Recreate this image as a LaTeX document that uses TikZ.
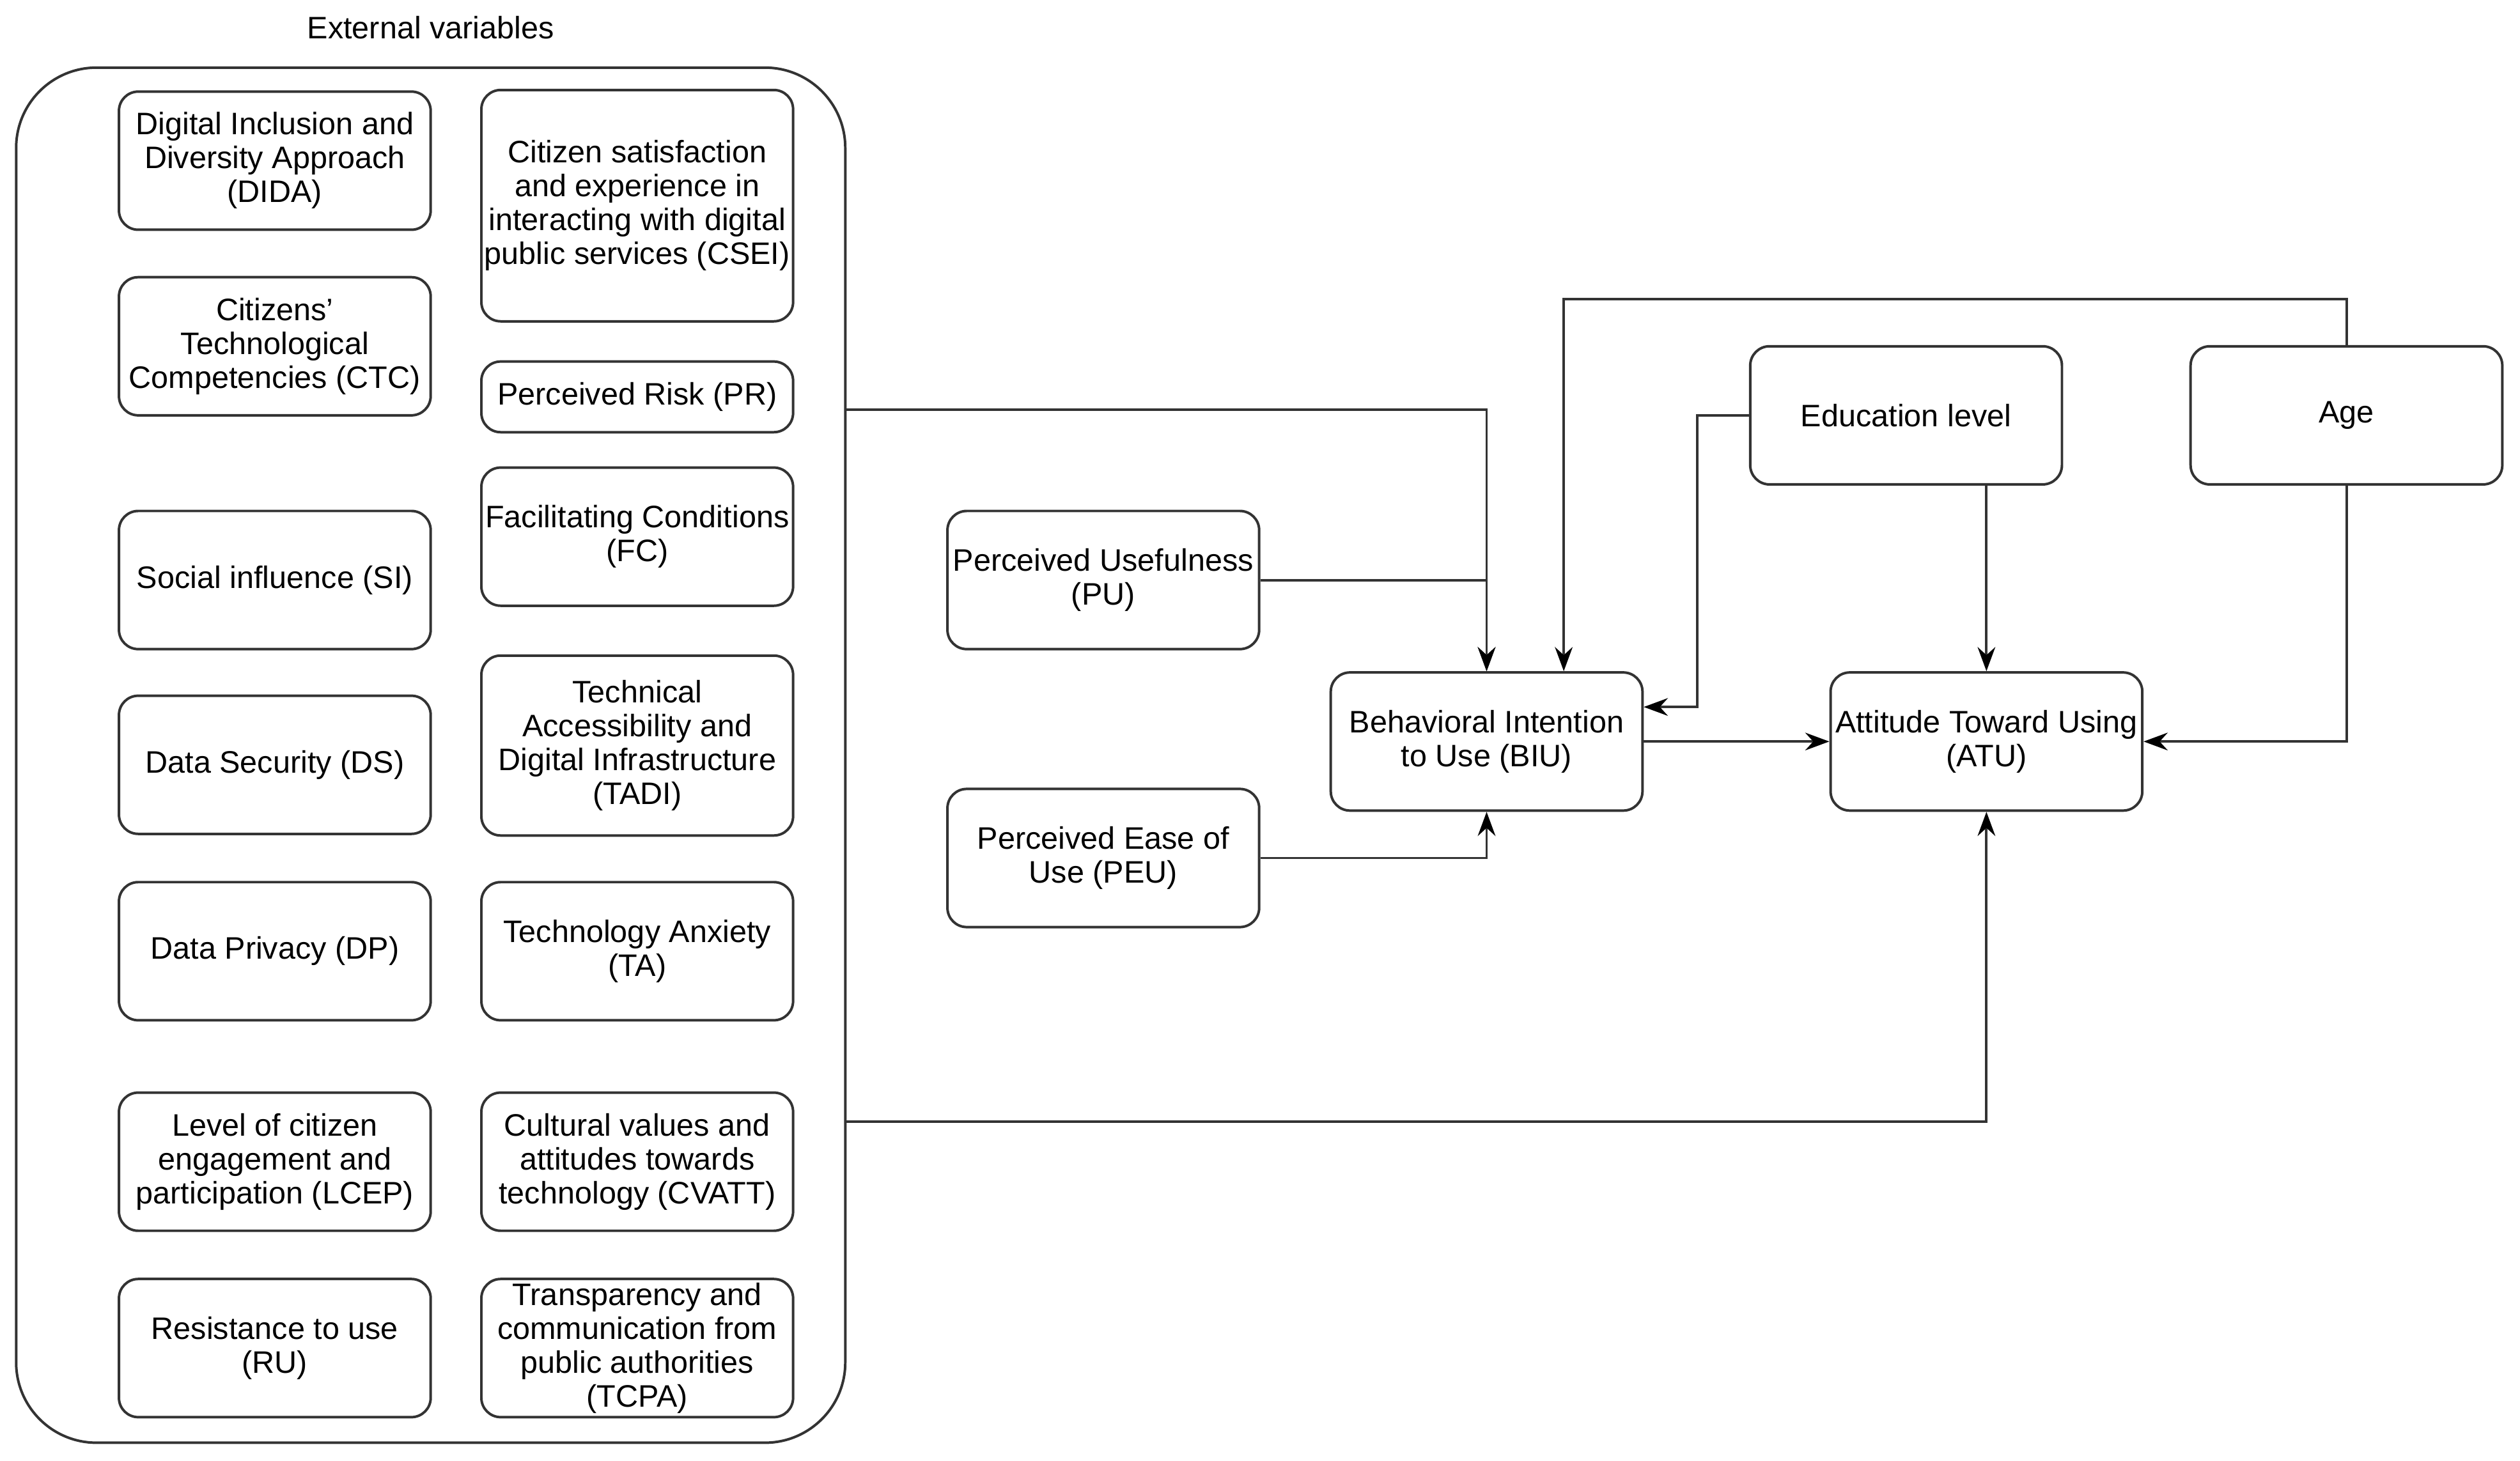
\documentclass[tikz,border=0pt]{standalone}
\usepackage{fontspec}
\setmainfont{Liberation Sans}
\usetikzlibrary{arrows.meta}
\colorlet{frame}{black!80}
\tikzset{
  % node options
  var/.style={rectangle,rounded corners=0.24cm,draw=frame,line width=0.9pt,
    align=center,inner sep=1pt,minimum width=3.88cm,minimum height=1.72cm,
    font=\fontsize{11}{12}\selectfont},
  varTall/.style={var,minimum height=2.88cm},
  varMid/.style={var,minimum height=2.24cm},
  varFlat/.style={var,minimum height=0.88cm},
  group/.style={rectangle,rounded corners=1cm,draw=frame,line width=0.9pt,
    minimum width=10.32cm,minimum height=17.12cm},
  title/.style={font=\fontsize{11}{12}\selectfont},
  % path options
  link/.style={-{Stealth[length=0.3cm,width=0.22cm,inset=0.1cm,color=black]},draw=frame,line width=0.9pt},
}
\begin{document}
\begin{tikzpicture}[x=0.02cm,y=-0.02cm]
    \useasboundingbox (0,0) rectangle (1568,909);
    % external variables
    \node[title] (extTitle) at (268,17) {External variables};
    \node[group] (ext) at (268,470) {};
    \node[var] (DIDA) at (171,100) {Digital Inclusion and\\Diversity Approach\\(DIDA)};
    \node[var] (CTC) at (171,215.5) {Citizens'\\Technological\\Competencies (CTC)};
    \node[var] (SI) at (171,361) {Social influence (SI)};
    \node[var] (DS) at (171,476) {Data Security (DS)};
    \node[var] (DP) at (171,592) {Data Privacy (DP)};
    \node[var] (LCEP) at (171,723) {Level of citizen\\engagement and\\participation (LCEP)};
    \node[var] (RU) at (171,839) {Resistance to use\\(RU)};
    \node[varTall] (CSEI) at (396.5,128) {Citizen satisfaction\\and experience in\\interacting with digital\\public services (CSEI)};
    \node[varFlat] (PR) at (396.5,247) {Perceived Risk (PR)};
    \node[var] (FC) at (396.5,334) {Facilitating Conditions\\(FC)};
    \node[varMid] (TADI) at (396.5,464) {Technical\\Accessibility and\\Digital Infrastructure\\(TADI)};
    \node[var] (TA) at (396.5,592) {Technology Anxiety\\(TA)};
    \node[var] (CVATT) at (396.5,723) {Cultural values and\\attitudes towards\\technology (CVATT)};
    \node[var] (TCPA) at (396.5,839) {Transparency and\\communication from\\public authorities\\(TCPA)};
    % model
    \node[var] (PU) at (686.5,361) {Perceived Usefulness\\(PU)};
    \node[var] (PEU) at (686.5,534) {Perceived Ease of\\Use (PEU)};
    \node[var] (BIU) at (925,461.5) {Behavioral Intention\\to Use (BIU)};
    \node[var] (ATU) at (1236,461.5) {Attitude Toward Using\\(ATU)};
    \node[var] (Edu) at (1186,258.5) {Education level};
    \node[var] (Age) at (1460,258.5) {Age};
    % connectors
    \draw[link] (ext.east |- 0,255) -| (BIU.north);
    \draw[link] (PU.east) -| (BIU.north);
    \draw[link] (PEU.east) -| (BIU.south);
    \draw[link] (Age.north) |- (973,186) -- (BIU.north -| 973,0);
    \draw[link] (Edu.west) -| (1056,440) -- (BIU.east |- 0,440);
    \draw[link] (Edu.south -| ATU.north) -- (ATU.north);
    \draw[link] (BIU.east) -- (ATU.west);
    \draw[link] (Age.south) |- (ATU.east);
    \draw[link] (ext.east |- 0,698) -| (ATU.south);
\end{tikzpicture}
\end{document}
